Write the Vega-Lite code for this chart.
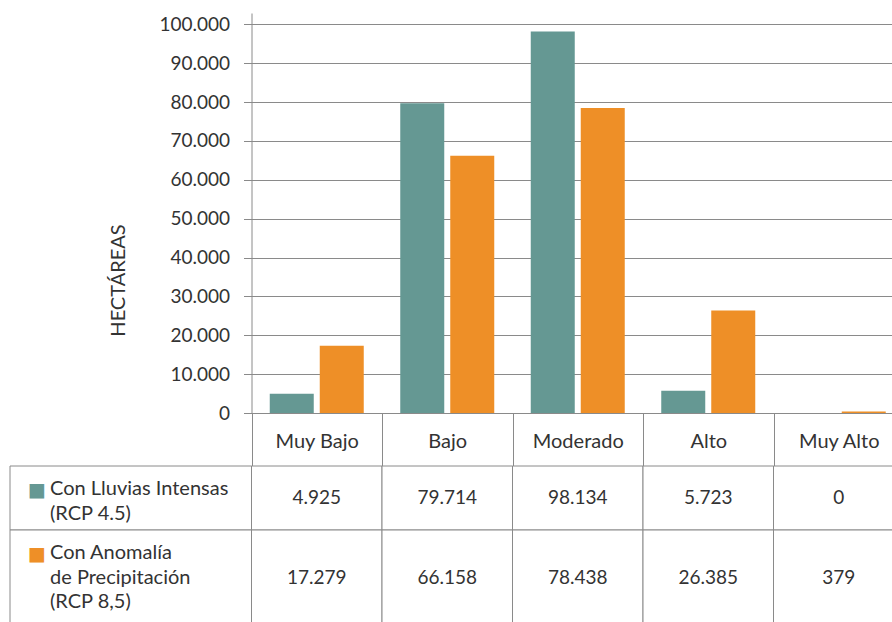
{
  "$schema": "https://vega.github.io/schema/vega-lite/v6.json",
  "width": 882,
  "height": 609,
  "padding": {"left": 10, "top": 13, "right": 0, "bottom": 0},
  "autosize": {"type": "none"},
  "config": {
    "view": {"stroke": null},
    "font": "Lato",
    "locale": {"number": {"decimal": ",", "thousands": ".", "grouping": [3], "currency": ["", " €"]}}
  },
  "datasets": {
    "valores": [
      {"categoria": "Muy Bajo", "serie": "Con Lluvias Intensas (RCP 4.5)", "valor": 4925},
      {"categoria": "Muy Bajo", "serie": "Con Anomalía de Precipitación (RCP 8,5)", "valor": 17279},
      {"categoria": "Bajo", "serie": "Con Lluvias Intensas (RCP 4.5)", "valor": 79714},
      {"categoria": "Bajo", "serie": "Con Anomalía de Precipitación (RCP 8,5)", "valor": 66158},
      {"categoria": "Moderado", "serie": "Con Lluvias Intensas (RCP 4.5)", "valor": 98134},
      {"categoria": "Moderado", "serie": "Con Anomalía de Precipitación (RCP 8,5)", "valor": 78438},
      {"categoria": "Alto", "serie": "Con Lluvias Intensas (RCP 4.5)", "valor": 5723},
      {"categoria": "Alto", "serie": "Con Anomalía de Precipitación (RCP 8,5)", "valor": 26385},
      {"categoria": "Muy Alto", "serie": "Con Lluvias Intensas (RCP 4.5)", "valor": 0},
      {"categoria": "Muy Alto", "serie": "Con Anomalía de Precipitación (RCP 8,5)", "valor": 379}
    ],
    "series": [
      {"serie": "Con Lluvias Intensas (RCP 4.5)", "etiqueta": "Con Lluvias Intensas\n(RCP 4.5)"},
      {"serie": "Con Anomalía de Precipitación (RCP 8,5)", "etiqueta": "Con Anomalía\nde Precipitación\n(RCP 8,5)"}
    ]
  },
  "layer": [
    {
      "data": {"name": "valores"},
      "mark": {"type": "bar"},
      "encoding": {
        "x": {
          "field": "categoria", "type": "nominal",
          "scale": {"domain": ["Muy Bajo", "Bajo", "Moderado", "Alto", "Muy Alto"], "range": [241.5, 894], "paddingInner": 0, "paddingOuter": 0},
          "axis": {
            "orient": "bottom", "offset": -209, "title": null, "grid": false,
            "tickBand": "extent", "tickSize": 53, "tickColor": "#8a8a8a", "tickWidth": 1,
            "domainColor": "#8a8a8a", "domainWidth": 1,
            "labelPadding": -25, "labelBaseline": "middle", "labelAngle": 0,
            "labelFontSize": 20, "labelColor": "#333333", "labelFont": "Lato"
          }
        },
        "xOffset": {
          "field": "serie", "type": "nominal",
          "scale": {"domain": ["Con Lluvias Intensas (RCP 4.5)", "Con Anomalía de Precipitación (RCP 8,5)"], "paddingInner": 0.12, "paddingOuter": 0.365}
        },
        "y": {
          "field": "valor", "type": "quantitative",
          "scale": {"domain": [0, 102900], "range": [400, 0], "nice": false, "zero": true},
          "axis": {
            "values": [0, 10000, 20000, 30000, 40000, 50000, 60000, 70000, 80000, 90000, 100000],
            "format": ",d", "offset": -241.5,
            "tickSize": 8, "tickColor": "#8a8a8a", "domainColor": "#8a8a8a",
            "grid": true, "gridColor": "#8a8a8a", "gridOpacity": 1,
            "labelPadding": 14, "labelFontSize": 19, "labelColor": "#333333", "labelFont": "Lato",
            "title": "HECTÁREAS", "titleX": -133.5, "titleY": 267, "titleAngle": 270,
            "titleAlign": "center", "titleBaseline": "middle",
            "titleFont": "Lato", "titleFontSize": 20, "titleFontWeight": "normal", "titleColor": "#333333"
          }
        },
        "color": {
          "field": "serie", "type": "nominal",
          "scale": {"domain": ["Con Lluvias Intensas (RCP 4.5)", "Con Anomalía de Precipitación (RCP 8,5)"], "range": ["#659893", "#ee8f27"]},
          "legend": null
        }
      }
    },
    {
      "data": {"name": "valores"},
      "transform": [
        {"lookup": "serie", "from": {"data": {"name": "series"}, "key": "serie", "fields": ["etiqueta"]}},
        {"calculate": "length(split(datum.etiqueta, '\\n'))", "as": "lineas"}
      ],
      "mark": {"type": "bar", "fill": "white", "stroke": "#8a8a8a", "strokeWidth": 1},
      "encoding": {
        "x": {"field": "categoria", "type": "nominal", "scale": {"domain": ["Muy Bajo", "Bajo", "Moderado", "Alto", "Muy Alto"], "range": [241.5, 894], "paddingInner": 0, "paddingOuter": 0}, "axis": null},
        "y": {"field": "lineas", "type": "quantitative", "stack": "zero", "scale": {"domain": [0, 5], "range": [453, 613], "nice": false, "zero": true}, "axis": null},
        "detail": {"field": "serie"},
        "order": {"field": "serie", "sort": "descending"}
      }
    },
    {
      "data": {"name": "valores"},
      "transform": [
        {"lookup": "serie", "from": {"data": {"name": "series"}, "key": "serie", "fields": ["etiqueta"]}},
        {"calculate": "length(split(datum.etiqueta, '\\n'))", "as": "lineas"}
      ],
      "mark": {"type": "text", "baseline": "middle", "align": "center", "fontSize": 19, "font": "Lato", "color": "#333333"},
      "encoding": {
        "x": {"field": "categoria", "type": "nominal", "scale": {"domain": ["Muy Bajo", "Bajo", "Moderado", "Alto", "Muy Alto"], "range": [241.5, 894], "paddingInner": 0, "paddingOuter": 0}, "axis": null},
        "y": {"field": "lineas", "type": "quantitative", "stack": "zero", "bandPosition": 0.5, "scale": {"domain": [0, 5], "range": [453, 613], "nice": false, "zero": true}, "axis": null},
        "detail": {"field": "serie"},
        "order": {"field": "serie", "sort": "descending"},
        "text": {"field": "valor", "type": "quantitative", "format": ",d"}
      }
    },
    {
      "data": {"name": "series"},
      "transform": [
        {"calculate": "length(split(datum.etiqueta, '\\n'))", "as": "lineas"},
        {"calculate": "'Escenario'", "as": "columna"}
      ],
      "mark": {"type": "bar", "fill": "white", "stroke": "#8a8a8a", "strokeWidth": 1},
      "encoding": {
        "x": {"field": "columna", "type": "nominal", "scale": {"domain": ["Escenario"], "range": [0, 241.5], "paddingInner": 0, "paddingOuter": 0}, "axis": null},
        "y": {"field": "lineas", "type": "quantitative", "stack": "zero", "scale": {"domain": [0, 5], "range": [453, 613], "nice": false, "zero": true}, "axis": null},
        "detail": {"field": "serie"},
        "order": {"field": "serie", "sort": "descending"}
      }
    },
    {
      "data": {"name": "series"},
      "transform": [
        {"calculate": "length(split(datum.etiqueta, '\\n'))", "as": "lineas"},
        {"calculate": "'Escenario'", "as": "columna"}
      ],
      "mark": {"type": "text", "align": "left", "baseline": "middle", "lineBreak": "\n", "lineHeight": 24.5, "dx": -80.75, "dy": 23, "fontSize": 20, "font": "Lato", "color": "#333333"},
      "encoding": {
        "x": {"field": "columna", "type": "nominal", "scale": {"domain": ["Escenario"], "range": [0, 241.5], "paddingInner": 0, "paddingOuter": 0}, "axis": null},
        "y": {"field": "lineas", "type": "quantitative", "stack": "zero", "bandPosition": 0, "scale": {"domain": [0, 5], "range": [453, 613], "nice": false, "zero": true}, "axis": null},
        "detail": {"field": "serie"},
        "order": {"field": "serie", "sort": "descending"},
        "text": {"field": "etiqueta"}
      }
    },
    {
      "data": {"name": "series"},
      "transform": [
        {"calculate": "length(split(datum.etiqueta, '\\n'))", "as": "lineas"},
        {"calculate": "'Escenario'", "as": "columna"}
      ],
      "mark": {"type": "text", "text": "■", "align": "center", "baseline": "middle", "dx": -93.75, "dy": 24, "fontSize": 19, "font": "DejaVu Sans"},
      "encoding": {
        "x": {"field": "columna", "type": "nominal", "scale": {"domain": ["Escenario"], "range": [0, 241.5], "paddingInner": 0, "paddingOuter": 0}, "axis": null},
        "y": {"field": "lineas", "type": "quantitative", "stack": "zero", "bandPosition": 0, "scale": {"domain": [0, 5], "range": [453, 613], "nice": false, "zero": true}, "axis": null},
        "detail": {"field": "serie"},
        "order": {"field": "serie", "sort": "descending"},
        "color": {"field": "serie", "type": "nominal", "legend": null}
      }
    }
  ],
  "resolve": {"scale": {"x": "independent", "y": "independent"}}
}
